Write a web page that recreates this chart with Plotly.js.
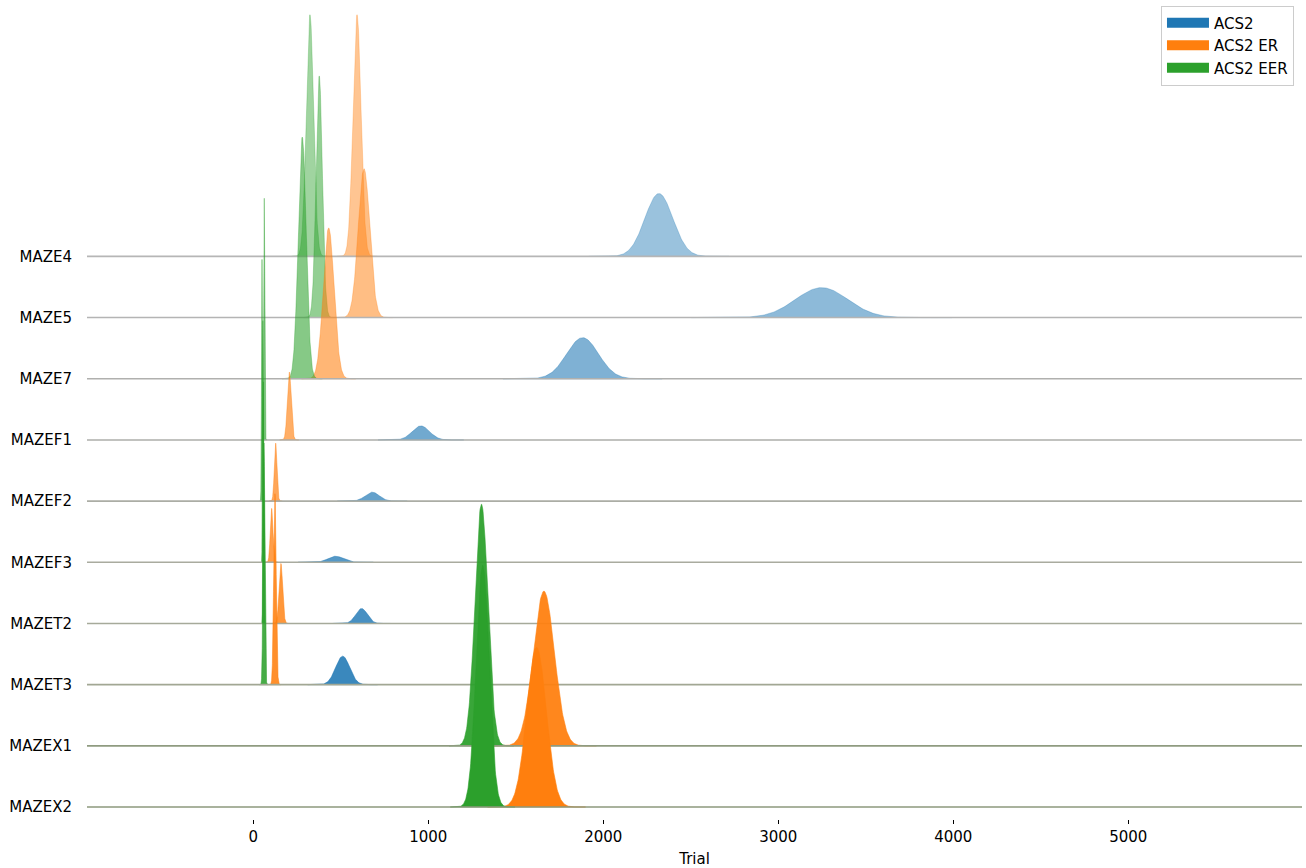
<!DOCTYPE html>
<html>
<head>
<meta charset="utf-8">
<script src="https://cdn.plot.ly/plotly-3.0.1.min.js"></script>
<style>html,body{margin:0;padding:0;background:#fff;}#chart{width:1306px;height:868px;}</style>
</head>
<body>
<div id="chart"></div>
<script>
// ---- data (rows top to bottom) ----
const mazes = ["MAZE4","MAZE5","MAZE7","MAZEF1","MAZEF2","MAZEF3","MAZET2","MAZET3","MAZEX1","MAZEX2"];
const seriesNames = ["ACS2","ACS2 ER","ACS2 EER"];

// centre (trial) of each density peak
const acs2Mean    = [2318, 3248, 1882, 958, 680, 471, 619, 511, null, null];
const acs2ErMean  = [593, 633, 431, 206, 128, 105, 158, 124, 1661, 1619];
const acs2EerMean = [324, 377, 280, 63, 50, 55, 58, 61, 1304, 1311];

// spread (trials) of each density
const acs2Sd    = [80, 149, 91, 49, 40, 43, 33, 40, null, null];
const acs2ErSd  = [23, 33, 31, 11, 7.5, 7.5, 10, 7, 60, 56];
const acs2EerSd = [21, 18, 23, 3, 2.6, 2.3, 2.6, 5, 37, 37];

// peak height relative to the tallest density of the row
const acs2Peak    = [0.26, 0.124, 0.17, 0.058, 0.037, 0.025, 0.062, 0.118, 0, 0];
const acs2ErPeak  = [1.0, 0.616, 0.624, 0.281, 0.24, 0.223, 0.248, 0.79, 0.64, 0.66];
const acs2EerPeak = [1.0, 1.0, 1.0, 1.0, 1.0, 1.0, 1.0, 1.0, 1.0, 1.0];

const xTicks = [0, 1000, 2000, 3000, 4000, 5000];

// ---- styling ----
const FONT = "DejaVu Sans, Liberation Sans, sans-serif";
const FS = 15;
const colors = [[31,119,180],[255,127,14],[44,160,44]];
const ROW_SCALE = 3.95;           // height of a full-scale density, in row units
const X_RANGE = [-950, 5993];
const nRows = mazes.length;
const baseColors = ["#b6b6b6","#b4b4b4","#b0b0ae","#adaeaa","#abada5","#a9ab9f","#a6aa9a","#a2a794","#8f9b80","#8c997c"];

function rgba(c, a){ return "rgba(" + c[0] + "," + c[1] + "," + c[2] + "," + a + ")"; }

const means = [acs2Mean, acs2ErMean, acs2EerMean];
const sds = [acs2Sd, acs2ErSd, acs2EerSd];
const peaks = [acs2Peak, acs2ErPeak, acs2EerPeak];

const traces = [];
for (let i = 0; i < nRows; i++) {
  const base = nRows - 1 - i;
  const alpha = 0.45 + 0.55 * i / (nRows - 1);
  for (let s = 0; s < 3; s++) {
    const m = means[s][i], sd = sds[s][i], p = peaks[s][i];
    if (m === null || !p) continue;
    const xs = [], ys = [];
    const N = 201;
    for (let k = 0; k < N; k++) {
      const x = m - 5 * sd + 10 * sd * k / (N - 1);
      const z = (x - m) / sd;
      xs.push(x);
      ys.push(base + ROW_SCALE * p * Math.exp(-0.5 * z * z));
    }
    xs.push(m + 5 * sd); ys.push(base);
    xs.push(m - 5 * sd); ys.push(base);
    traces.push({
      type: "scatter", mode: "lines", x: xs, y: ys,
      fill: "toself", fillcolor: rgba(colors[s], alpha),
      line: {color: rgba(colors[s], Math.min(1, alpha)), width: 0.6},
      hoverinfo: "skip", showlegend: false
    });
  }
  traces.push({
    type: "scatter", mode: "lines", x: X_RANGE, y: [base, base],
    line: {color: baseColors[i], width: 1.6},
    hoverinfo: "skip", showlegend: false
  });
}
// legend entries
for (let s = 0; s < 3; s++) {
  traces.push({
    type: "scatter", mode: "lines", x: [null], y: [null],
    name: seriesNames[s], line: {color: rgba(colors[s], 1), width: 10},
    showlegend: true
  });
}

const layout = {
  width: 1306, height: 868,
  margin: {l: 87, r: 4, t: 8, b: 49},
  paper_bgcolor: "#ffffff", plot_bgcolor: "#ffffff",
  font: {family: FONT, size: FS, color: "#000000"},
  showlegend: true,
  legend: {
    x: 0.9934, xanchor: "right", y: 1.003, yanchor: "top",
    itemwidth: 42,
    bordercolor: "#cccccc", borderwidth: 1, bgcolor: "rgba(255,255,255,0.85)",
    font: {family: FONT, size: FS, color: "#000000"}
  },
  xaxis: {
    range: X_RANGE, tickvals: xTicks, ticktext: xTicks.map(String),
    ticks: "outside", ticklen: 4, tickwidth: 1, tickcolor: "#000000",
    showgrid: false, zeroline: false, showline: false,
    tickfont: {family: FONT, size: FS, color: "#000000"},
    title: {text: "Trial", font: {family: FONT, size: FS, color: "#000000"}, standoff: 9}
  },
  yaxis: {
    range: [-0.196, 13.06],
    tickvals: mazes.map((_, i) => nRows - 1 - i), ticktext: mazes,
    ticks: "", showgrid: false, zeroline: false, showline: false,
    ticklabelstandoff: 14,
    tickfont: {family: FONT, size: FS, color: "#000000"}
  }
};

Plotly.newPlot("chart", traces, layout, {displayModeBar: false, staticPlot: true});
</script>
</body>
</html>
